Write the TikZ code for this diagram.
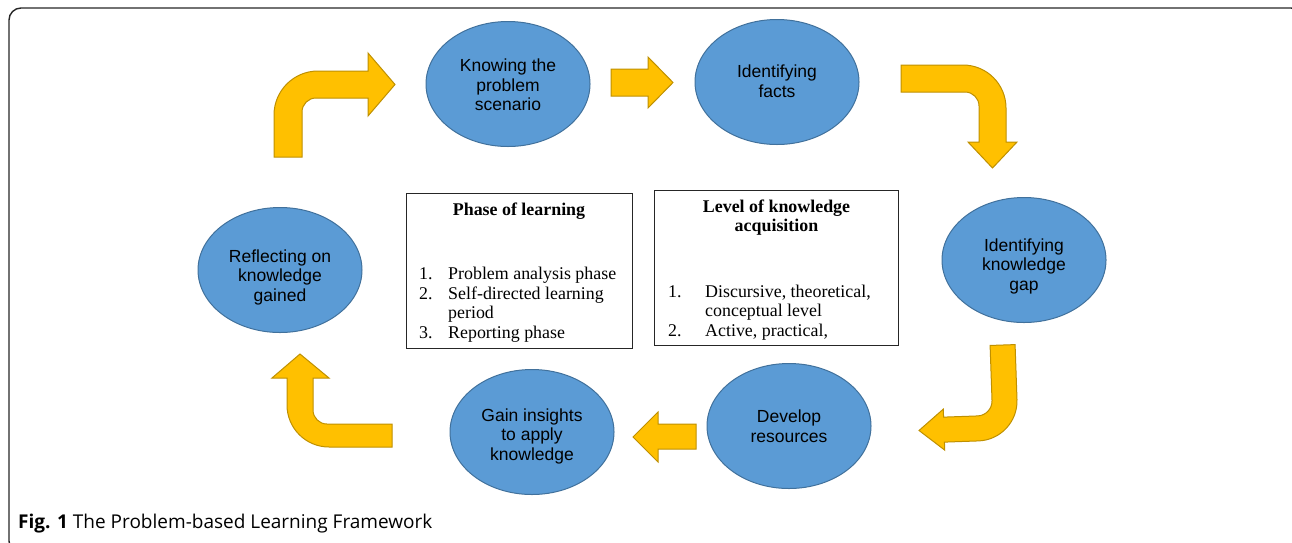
\documentclass[tikz,border=0pt]{standalone}
\usepackage{fontspec}
\setmainfont{Liberation Serif}
\newfontfamily\arialf{Liberation Sans}
\newfontfamily\capf{Open Sans}
\usetikzlibrary{shapes.geometric}
\definecolor{ellfill}{HTML}{5B9BD5}
\definecolor{elldraw}{HTML}{41719C}
\definecolor{arrfill}{HTML}{FFC000}
\definecolor{arrdraw}{HTML}{BF9000}
\tikzset{
  stage/.style={ellipse, draw=elldraw, fill=ellfill, line width=1pt,
    minimum width=164pt, minimum height=125pt, inner sep=0pt},
  stagetext/.style={inner sep=0pt, align=center,
    font=\arialf\fontsize{17.5}{19.5}\selectfont},
  blockarrow/.style={draw=arrdraw, fill=arrfill, line width=1pt, line join=miter},
  infobox/.style={draw=black!85, line width=0.8pt, rectangle, inner sep=0pt},
  boxtext/.style={font=\fontsize{17.9}{19.5}\selectfont, inner sep=0pt, anchor=base west},
  boxtitle/.style={font=\bfseries\fontsize{17.9}{19.5}\selectfont, inner sep=0pt, anchor=base},
}
\begin{document}
\begin{tikzpicture}[x=1pt,y=1pt]
\useasboundingbox (0,0) rectangle (1292,-542);
% frame
\draw[line width=1.4pt, black!85, rounded corners=12pt] (9,-8) rectangle (1303,-553);
% stages
\node[stage] (s1) at (508,-84) {};
\node[stagetext] (s1t) at ([yshift=-1pt]s1.center) {Knowing the\\problem\\scenario};
\node[stage] (s2) at (777,-82) {};
\node[stagetext] (s2t) at ([yshift=1pt]s2.center) {Identifying\\facts};
\node[stage] (s3) at (1024,-260) {};
\node[stagetext] (s3t) at ([yshift=-6pt]s3.center) {Identifying\\knowledge\\gap};
\node[stage] (s4) at (789,-426) {};
\node[stagetext] (s4t) at (s4.center) {Develop\\resources};
\node[stage] (s5) at (532,-432) {};
\node[stagetext] (s5t) at ([yshift=-4pt]s5.center) {Gain insights\\to apply\\knowledge};
\node[stage] (s6) at (280,-270) {};
\node[stagetext] (s6t) at ([yshift=-7pt]s6.center) {Reflecting on\\knowledge\\gained};
% arrows
\draw[blockarrow] (274,-157) -- (274,-115) arc (180:90:44) -- (368,-71) -- (368,-53)
  -- (395,-84.5) -- (368,-116) -- (368,-98) -- (316,-98) arc (90:180:14) -- (302,-157) -- cycle;
\draw[blockarrow] (611,-69) -- (648,-69) -- (648,-57) -- (673,-82.5) -- (648,-108)
  -- (648,-96) -- (611,-96) -- cycle;
\draw[blockarrow] (901,-65) -- (963,-65) arc (90:0:43) -- (1006,-142) -- (1017,-142)
  -- (992.5,-168) -- (968,-142) -- (979,-142) -- (979,-106) arc (0:90:14) -- (901,-92) -- cycle;
\draw[blockarrow, rotate around={2:(1004,-400)}] (992,-345) -- (1017,-345) -- (1017,-400) arc (0:-90:40) -- (943,-440)
  -- (943,-448) -- (918,-427.5) -- (943,-407) -- (943,-415) -- (977,-415) arc (-90:0:15) -- cycle;
\draw[blockarrow] (696,-424) -- (658,-424) -- (658,-412) -- (633,-437) -- (658,-462)
  -- (658,-449) -- (696,-449) -- cycle;
\draw[blockarrow] (392,-424) -- (327,-424) arc (270:180:14) -- (313,-378) -- (329,-378)
  -- (300,-354) -- (272,-378) -- (287,-378) -- (287,-405) arc (180:270:42) -- (392,-447) -- cycle;
% boxes
\node[infobox, minimum width=226pt, minimum height=155pt] (b1) at (519,-270.5) {};
\node[boxtitle] (b1t) at (519,-215) {Phase of learning};
\node[boxtext] (b1n1) at (419,-279) {1.};
\node[boxtext] (b1i1) at (448,-279) {Problem analysis phase};
\node[boxtext] (b1n2) at (419,-299) {2.};
\node[boxtext] (b1i2) at (448,-299) {Self-directed learning};
\node[boxtext] (b1i2b) at (448,-318) {period};
\node[boxtext] (b1n3) at (419,-338) {3.};
\node[boxtext] (b1i3) at (448,-338) {Reporting phase};
\node[infobox, minimum width=244pt, minimum height=155pt] (b2) at (776,-267.5) {};
\node[boxtitle] (b2t1) at (776.5,-212) {Level of knowledge};
\node[boxtitle] (b2t2) at (776.5,-231) {acquisition};
\node[boxtext] (b2n1) at (668,-297) {1.};
\node[boxtext] (b2i1) at (705,-297) {Discursive, theoretical,};
\node[boxtext] (b2i1b) at (705,-316) {conceptual level};
\node[boxtext] (b2n2) at (668,-336) {2.};
\node[boxtext] (b2i2) at (705,-336) {Active, practical,};
% caption
\node[anchor=base west, inner sep=0pt, font=\capf\fontsize{19}{22}\selectfont] (cap) at (18,-528)
  {\textbf{Fig. 1} The Problem-based Learning Framework};
\end{tikzpicture}
\end{document}
